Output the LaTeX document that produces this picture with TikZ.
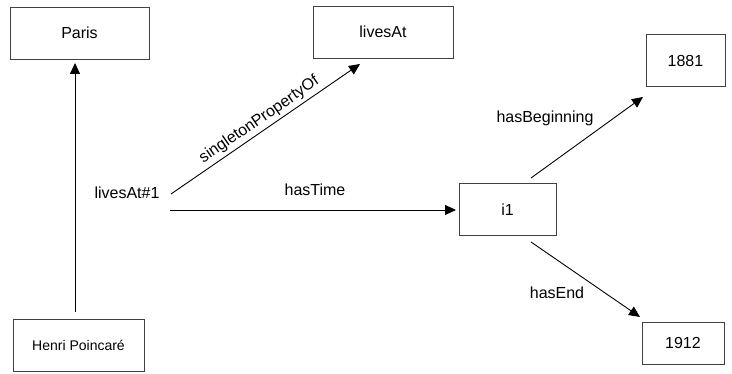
\documentclass[tikz,border=0pt]{standalone}
\usepackage{fontspec}
\setmainfont{Liberation Sans}
\usetikzlibrary{arrows.meta}
\begin{document}
\begin{tikzpicture}[x=1pt,y=-1pt,
  box/.style={draw=black!75,line width=0.9pt,minimum height=52pt,inner sep=0pt,font=\fontsize{16}{18}\selectfont},
  lbl/.style={font=\fontsize{16}{18}\selectfont,inner sep=1pt},
  arr/.style={-{Triangle[length=11pt,width=10pt]},line width=0.9pt}]
\useasboundingbox (0,0) rectangle (732,374);
\node[box,minimum width=139pt] (paris) at (79.5,33) {Paris};
\node[box,minimum width=140pt] (livesat) at (383,32) {livesAt};
\node[box,minimum width=79pt] (y1881) at (685.5,60.5) {1881};
\node[box,minimum width=97pt] (i1) at (507.5,209.5) {i1};
\node[box,minimum width=82pt,minimum height=42pt] (y1912) at (683,343) {1912};
\node[box,minimum width=131pt,font=\fontsize{14}{16}\selectfont] (henri) at (78.5,345) {Henri Poincaré};
\node[lbl] (la1) at (127,193) {livesAt\#1};
\coordinate (pa) at (75,312);
\coordinate (pb) at (75,63);
\coordinate (sa) at (171,194);
\coordinate (sb) at (360,64);
\coordinate (ta) at (170,210);
\coordinate (tb) at (456,210);
\coordinate (ba) at (531,178);
\coordinate (bb) at (643,97);
\coordinate (ea) at (531,242);
\coordinate (eb) at (640,317);
\draw[arr] (pa) -- (pb);
\draw[arr] (sa) -- node[lbl,sloped,above=2pt] {singletonPropertyOf} (sb);
\draw[arr] (ta) -- (tb);
\node[lbl] (tl) at (315,190) {hasTime};
\draw[arr] (ba) -- (bb);
\node[lbl] (bl) at (545,118) {hasBeginning};
\draw[arr] (ea) -- (eb);
\node[lbl] (el) at (557,293) {hasEnd};
\end{tikzpicture}
\end{document}
